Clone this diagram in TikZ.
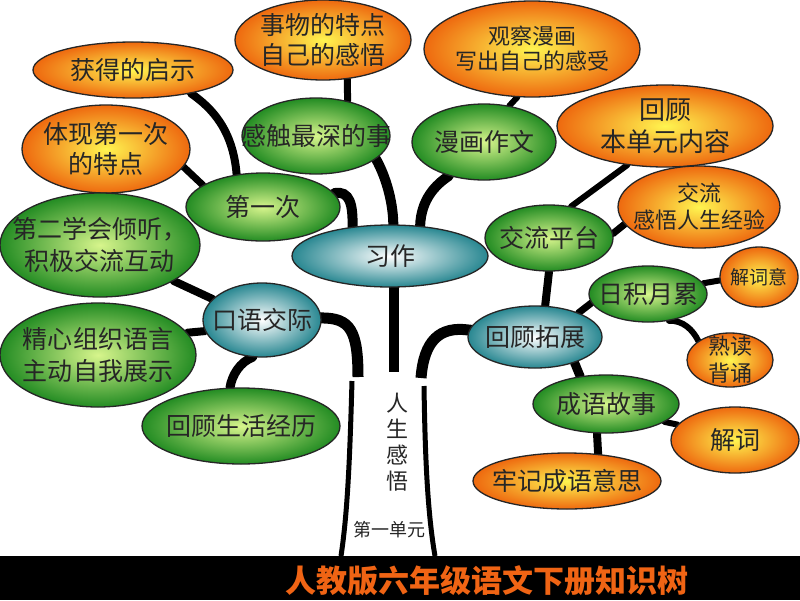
\documentclass[tikz,border=0pt]{standalone}
\usepackage{fontspec}
\setmainfont{Noto Sans CJK SC}
\usetikzlibrary{shapes.geometric,backgrounds}
\definecolor{org}{RGB}{238,105,15}
\definecolor{orgin}{RGB}{255,245,80}
\definecolor{grn}{RGB}{35,140,35}
\definecolor{grnin}{RGB}{215,245,140}
\definecolor{tealo}{RGB}{40,135,145}
\definecolor{titleorg}{RGB}{240,100,20}
\begin{document}
\begin{tikzpicture}[x=1pt,y=-1pt,
  bub/.style={ellipse,draw=black!85,line width=1.3pt,inner sep=0pt},
  ob/.style={bub,inner color=orgin,outer color=org},
  gb/.style={bub,inner color=grnin,outer color=grn},
  tb/.style={bub,inner color=white,outer color=tealo},
  lab/.style={align=center,text=black!85,font=\fontsize{25}{30}\selectfont,inner sep=0pt},
  cn/.style={draw=black,line width=#1,line cap=round},
  trunk/.style={draw=black,line width=#1}]
\useasboundingbox (0,0) rectangle (800,600);

\node[ob,minimum width=200,minimum height=56,label={[lab]center:获得的启示}] (huode) at (133,70) {};
\node[ob,minimum width=176,minimum height=80,label={[lab]center:事物的特点\\自己的感悟}] (shiwu) at (323,40) {};
\node[ob,minimum width=216,minimum height=96,label={[lab,font=\fontsize{22}{25}\selectfont]center:观察漫画\\写出自己的感受}] (guancha) at (532,49) {};
\node[ob,minimum width=168,minimum height=88,label={[lab]center:体现第一次\\的特点}] (tixian) at (106,149) {};
\node[gb,minimum width=148,minimum height=76,label={[lab]center:感触最深的事}] (ganchu) at (316,136) {};
\node[gb,minimum width=144,minimum height=76,label={[lab]center:漫画作文}] (manhua) at (484,142) {};
\node[ob,minimum width=216,minimum height=82,label={[lab,font=\fontsize{26}{32}\selectfont]center:回顾\\本单元内容}] (huigu1) at (665,126) {};
\node[gb,minimum width=154,minimum height=68,label={[lab]center:第一次}] (diyici) at (263,207) {};
\node[gb,minimum width=200,minimum height=104,label={[lab,font=\fontsize{25}{32}\selectfont]center:第二学会倾听，\\积极交流互动}] (dier) at (100,245) {};
\node[tb,minimum width=196,minimum height=62,label={[lab]center:习作}] (xizuo) at (390,256) {};
\node[gb,minimum width=128,minimum height=66,label={[lab]center:交流平台}] (jlpt) at (549,238) {};
\node[ob,minimum width=162,minimum height=82,label={[lab,font=\fontsize{22}{27}\selectfont]center:交流\\感悟人生经验}] (ganwu) at (699,207) {};
\node[tb,minimum width=118,minimum height=74,label={[lab]center:口语交际}] (kouyu) at (262,320) {};
\node[gb,minimum width=196,minimum height=104,label={[lab,font=\fontsize{25}{32}\selectfont]center:精心组织语言\\主动自我展示}] (jingxin) at (98,355) {};
\node[gb,minimum width=198,minimum height=76,label={[lab]center:回顾生活经历}] (shenghuo) at (241,426) {};
\node[gb,minimum width=118,minimum height=56,label={[lab]center:日积月累}] (riji) at (648,294) {};
\node[ob,minimum width=78,minimum height=60,label={[lab,font=\fontsize{19}{19}\selectfont]center:解词意}] (jiecy) at (759,277) {};
\node[tb,minimum width=134,minimum height=62,label={[lab]center:回顾拓展}] (huigu2) at (535,337) {};
\node[ob,minimum width=86,minimum height=54,label={[lab,font=\fontsize{22}{27}\selectfont]center:熟读\\背诵}] (shudu) at (730,360) {};
\node[gb,minimum width=146,minimum height=58,label={[lab]center:成语故事}] (chengyu) at (606,404) {};
\node[ob,minimum width=128,minimum height=66,label={[lab]center:解词}] (jieci) at (735,440) {};
\node[ob,minimum width=188,minimum height=56,label={[lab]center:牢记成语意思}] (laoji) at (567,481) {};

\coordinate (tl) at (358,377);
\coordinate (tm) at (394,372);
\coordinate (tr) at (421,378);

\begin{pgfonlayer}{background}
\fill[white] (0,0) rectangle (800,600);
\draw[cn=7pt] (ganchu.48) -- (shiwu.-58);
\draw[cn=6pt] (manhua.55) -- (guancha.-107);
\draw[cn=8pt] (huode.-22) .. controls (212,108) and (233,130) .. (diyici.129);
\draw[cn=7pt] (tixian.-13) -- (diyici.160);
\draw[cn=10pt] (diyici.11) .. controls (350,190) and (353,205) .. (xizuo.142);
\draw[cn=10pt] (ganchu.-21) .. controls (385,175) and (393,200) .. (xizuo.84);
\draw[cn=10pt] (manhua.-136) .. controls (435,185) and (421,200) .. (xizuo.45);
\draw[trunk=11pt] (kouyu.center) -- (kouyu.2) .. controls (350,318) and (358,330) .. (tl);
\draw[trunk=10pt] (xizuo.center -| tm) -- (tm);
\draw[trunk=11pt] (huigu2.center) -- (huigu2.174) .. controls (440,326) and (424,340) .. (tr);
\draw[cn=6pt] (jlpt.55) -- (huigu1.-134);
\draw[cn=7pt] (jlpt.4) -- (ganwu.-167);
\draw[cn=8pt] (jlpt.-90) -- (huigu2.72);
\draw[cn=7pt] (huigu2.29) -- (riji.-171);
\draw[cn=6pt] (riji.11) -- (jiecy.-175);
\draw[cn=6pt] (riji.-52) .. controls (683,320) and (693,330) .. (shudu.149);
\draw[cn=9pt] (huigu2.-33) -- (chengyu.133);
\draw[cn=6pt] (chengyu.-17) -- (jieci.165);
\draw[cn=8pt] (chengyu.-107) -- (laoji.41);
\draw[cn=8pt] (dier.-26) -- (kouyu.157);
\draw[cn=8pt] (jingxin.14) -- (kouyu.-169);
\draw[cn=9pt] (kouyu.-104) .. controls (240,362) and (232,375) .. (shenghuo.106);
\draw[trunk=5pt] (352,381) .. controls (350,450) and (348,510) .. (341,556);
\draw[trunk=5pt] (424,386) .. controls (425,450) and (427,510) .. (435,556);
\end{pgfonlayer}

\node[align=center,text=black!85,font=\fontsize{22}{26}\selectfont,inner sep=0pt] (rensheng) at (397,442) {人\\生\\感\\悟};
\node[text=black!85,font=\fontsize{18}{18}\selectfont,inner sep=0pt] (danyuan) at (389,530) {第一单元};

\fill[black] (0,556) rectangle (800,600);
\node[text=titleorg,font=\fontsize{31}{31}\selectfont\bfseries,inner sep=0pt] (title) at (487,581) {人教版六年级语文下册知识树};
\end{tikzpicture}
\end{document}
